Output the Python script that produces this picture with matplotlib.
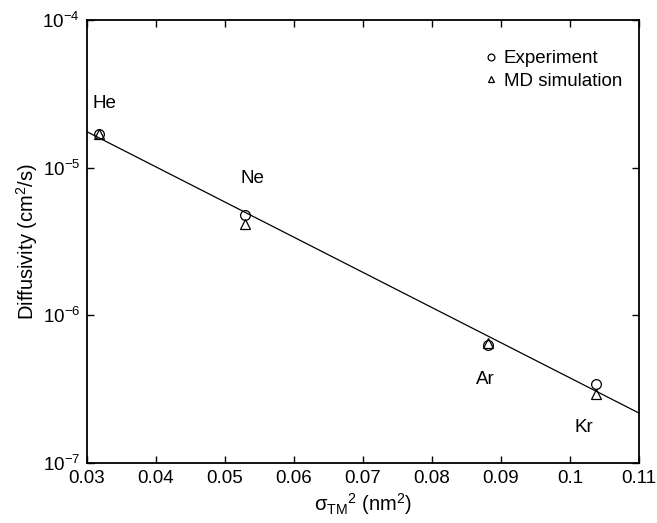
import numpy as np
import matplotlib
matplotlib.use('Agg')
import matplotlib.pyplot as plt

plt.rcParams['font.family'] = ['Liberation Sans', 'DejaVu Sans']
plt.rcParams['mathtext.fontset'] = 'custom'
plt.rcParams['mathtext.rm'] = 'Liberation Sans'
plt.rcParams['mathtext.it'] = 'Liberation Sans:italic'

# Datos
gases = ['He', 'Ne', 'Ar', 'Kr']
sigma2 = [0.0318, 0.0529, 0.0881, 0.1038]          # sigma_TM^2 (nm^2)
D_exp = [1.68e-5, 4.80e-6, 6.30e-7, 3.45e-7]        # experimento
D_md = [1.68e-5, 4.15e-6, 6.50e-7, 2.95e-7]         # simulación MD
lbl_x = [0.0325, 0.0540, 0.0878, 0.1020]
lbl_y = [2.7e-5, 8.5e-6, 3.65e-7, 1.73e-7]

xticks = [0.03, 0.04, 0.05, 0.06, 0.07, 0.08, 0.09, 0.1, 0.11]
xticklabels = ['0.03', '0.04', '0.05', '0.06', '0.07', '0.08', '0.09', '0.1', '0.11']
yticks = [1e-7, 1e-6, 1e-5, 1e-4]

# Ajuste lineal en escala log
p = np.polyfit(sigma2, np.log10(D_exp), 1)
xf = np.array([0.03, 0.11])
yf = 10**np.polyval(p, xf)

fig = plt.figure(figsize=(6.57, 5.23), dpi=100)
ax = fig.add_axes([87/657, 1-463/523, (639-87)/657, 443/523])

ax.plot(xf, yf, '-', color='black', linewidth=0.9)
ax.plot(sigma2, D_exp, 'o', mfc='none', mec='black', ms=7, mew=0.9, label='Experiment')
ax.plot(sigma2, D_md, '^', mfc='none', mec='black', ms=7, mew=0.9, label='MD simulation')

for g, x, y in zip(gases, lbl_x, lbl_y):
    ax.text(x, y, g, fontsize=13.5, ha='center', va='center')

ax.set_yscale('log')
ax.set_xlim(0.03, 0.11)
ax.set_ylim(1e-7, 1e-4)
ax.set_xticks(xticks)
ax.set_xticklabels(xticklabels)
ax.set_yticks(yticks)
ax.set_yticklabels([r'$\mathregular{10^{%d}}$' % int(np.log10(v)) for v in yticks])
ax.minorticks_off()
ax.tick_params(direction='in', top=True, right=True, length=5, width=1,
               labelsize=13.5, pad=5)
for s in ax.spines.values():
    s.set_linewidth(1.3)

ax.set_xlabel(r'$\mathregular{\sigma_{TM}{}^2\ (nm^2)}$', fontsize=14.5, labelpad=3)
ax.set_ylabel(r'Diffusivity (cm$\mathregular{^2}$/s)', fontsize=14.5, labelpad=2)

ax.legend(loc='upper right', bbox_to_anchor=(1.0, 0.97), frameon=False,
          fontsize=13.5, handletextpad=0.15, labelspacing=0.3, markerscale=0.7,
          handlelength=1.1)

plt.savefig('out.png', dpi=100)
